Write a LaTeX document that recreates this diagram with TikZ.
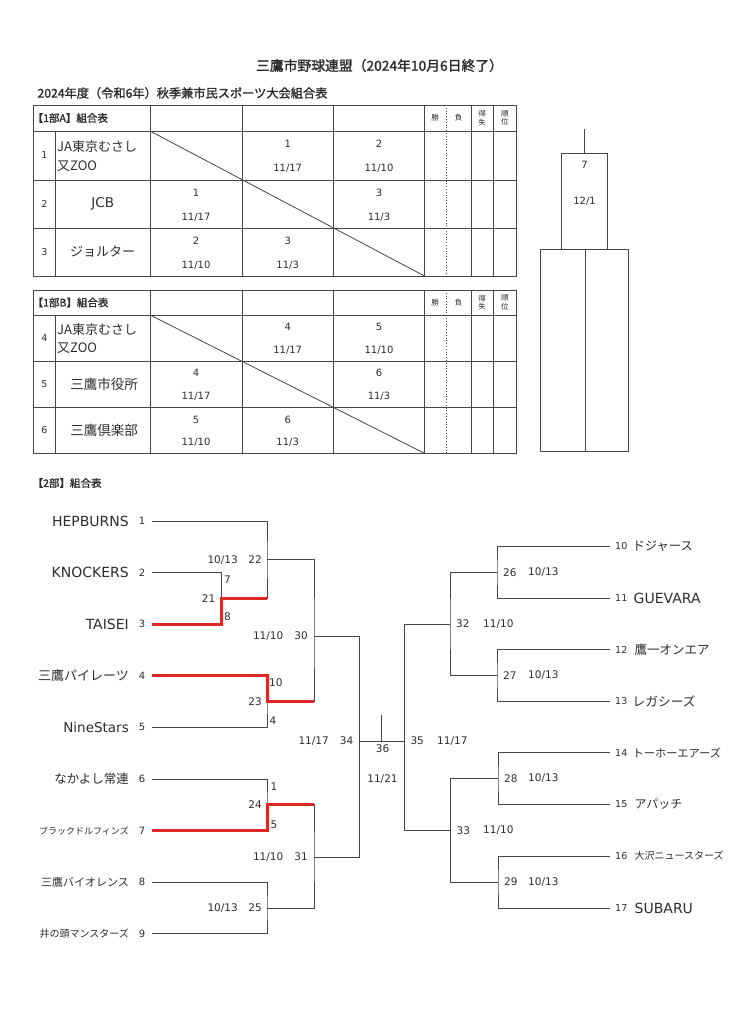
\documentclass[tikz,border=0pt]{standalone}
\usepackage{fontspec}
\setmainfont{DejaVu Sans}
\newfontfamily\jp{Noto Sans CJK JP}
\newfontfamily\jpb[FakeBold=1.6]{Noto Sans CJK JP}
\usetikzlibrary{positioning, calc}
\definecolor{ink}{RGB}{45,45,45}
\definecolor{linegray}{RGB}{70,70,70}
\definecolor{winred}{RGB}{222,38,38}
\newcommand\tsize[1]{\fontsize{#1}{#1}\selectfont}
\newcommand\score[6]{%
  \node[cell] (#1n) at (#2,#3) {#5};
  \node[cell] (#1d) at (#2,#4) {#6};}
\tikzset{
  tabline/.style={draw=linegray, line width=0.8pt},
  bline/.style={draw=linegray, line width=0.9pt},
  win/.style={draw=winred, line width=3pt},
  cell/.style={font=\tsize{10}, text=ink, inner sep=0pt},
  hdr/.style={font=\jpb\tsize{10.5}, text=ink, inner sep=0pt, anchor=west},
  colhd/.style={font=\jp\fontsize{7.5}{8.5}\selectfont, text=ink, inner sep=0pt, align=center},
  rowno/.style={font=\tsize{9.5}, text=ink, inner sep=0pt},
  tname/.style={text=ink, inner sep=0pt},
  seedL/.style={font=\tsize{10}, text=ink, inner sep=0pt},
  seedR/.style={font=\tsize{9.5}, text=ink, inner sep=0pt, anchor=west},
  teamL/.style={text=ink, inner sep=0pt, anchor=east},
  teamR/.style={text=ink, inner sep=0pt, anchor=west},
  lab/.style={font=\tsize{10.5}, text=ink, inner sep=0pt},
}

\begin{document}
\begin{tikzpicture}[x=1pt, y=-1pt]
\useasboundingbox (0,0) rectangle (734,1024);

% headings
\node[font=\jpb\tsize{13.8}, text=ink] (title) at (379.5,65.5) {三鷹市野球連盟（2024年10月6日終了）};
\node[font=\jpb\tsize{12.2}, text=ink, anchor=west] (subtitle) at (34,93) {2024年度（令和6年）秋季兼市民スポーツ大会組合表};

% league tables 1部A / 1部B
\foreach \t/\h/\m/\ra/\rb/\b/\g in {105/131/118/180/228/276/A, 290/315/302.5/361/407.5/453.3/B} {
  \draw[tabline] (33.3,\t) rectangle (516,\b);
  \draw[tabline] (33.3,\h) -- (516,\h) (33.3,\ra) -- (516,\ra) (33.3,\rb) -- (516,\rb);
  \draw[tabline] (55.5,\h) -- (55.5,\b);
  \foreach \x in {150,242,333.5,424.5,471,493.5}
    \draw[tabline] (\x,\t) -- (\x,\b);
  \draw[tabline, dotted] (446,\t) -- (446,\b);
  \draw[tabline] (150,\h) -- (424.5,\b);
  \node[hdr] (hd\g) at (32.5,\m) {【1部\g】組合表};
  \node[colhd] (win\g) at (435.2,\m) {勝};
  \node[colhd] (lose\g) at (458.5,\m) {負};
  \node[colhd] (diff\g) at (482.2,\m) {得\\失};
  \node[colhd] (rank\g) at (504.8,\m) {順\\位};
}

% 1部A rows
\node[rowno] (ra1) at (44.4,155.5) {1};
\node[rowno] (ra2) at (44.4,204) {2};
\node[rowno] (ra3) at (44.4,252) {3};
\node[tname, font=\jp\fontsize{13}{18.5}\selectfont, align=left, anchor=west] (na1) at (57,156) {JA東京むさし\\又ZOO};
\node[tname, font=\tsize{13.5}] (na2) at (102.7,204) {JCB};
\node[tname, font=\jp\tsize{13}] (na3) at (102.7,252) {ジョルター};
\score{a13}{287.7}{143.5}{168}{1}{11/17}
\score{a14}{379}{143.5}{168}{2}{11/10}
\score{a21}{196}{192.5}{217}{1}{11/17}
\score{a24}{379}{192.5}{217}{3}{11/3}
\score{a31}{196}{240.5}{265}{2}{11/10}
\score{a32}{287.7}{240.5}{265}{3}{11/3}

% 1部B rows
\node[rowno] (rb4) at (44.4,338) {4};
\node[rowno] (rb5) at (44.4,384.2) {5};
\node[rowno] (rb6) at (44.4,430.4) {6};
\node[tname, font=\jp\fontsize{13}{18.5}\selectfont, align=left, anchor=west] (nb4) at (57,338.5) {JA東京むさし\\又ZOO};
\node[tname, font=\jp\tsize{13.5}] (nb5) at (104,384.2) {三鷹市役所};
\node[tname, font=\jp\tsize{13.5}] (nb6) at (104,430.4) {三鷹倶楽部};
\score{b13}{287.7}{327}{350}{4}{11/17}
\score{b14}{379}{327}{350}{5}{11/10}
\score{b21}{196}{373}{396}{4}{11/17}
\score{b24}{379}{373}{396}{6}{11/3}
\score{b31}{196}{419.5}{442.5}{5}{11/10}
\score{b32}{287.7}{419.5}{442.5}{6}{11/3}

% final box
\draw[tabline] (584.3,129) -- (584.3,153);
\draw[tabline] (561.7,249) -- (561.7,153) -- (607.3,153) -- (607.3,249);
\draw[tabline] (540,249) rectangle (628.3,451.7);
\draw[tabline] (585.5,249) -- (585.5,451.7);
\node[cell] (fin) at (584.5,165) {7};
\node[cell] (findate) at (584.5,201.5) {12/1};

% 2部 bracket
\node[hdr] (hd2) at (32.5,483) {【2部】組合表};

\coordinate (t1) at (152,521);   \coordinate (t2) at (152,572.6);
\coordinate (t3) at (152,624.2); \coordinate (t4) at (152,675.8);
\coordinate (t5) at (152,727.4); \coordinate (t6) at (152,779);
\coordinate (t7) at (152,830.6); \coordinate (t8) at (152,882.2);
\coordinate (t9) at (152,933.8);
\coordinate (t10) at (610,546);   \coordinate (t11) at (610,598);
\coordinate (t12) at (610,649.5); \coordinate (t13) at (610,701);
\coordinate (t14) at (610,752.7); \coordinate (t15) at (610,804.3);
\coordinate (t16) at (610,856);   \coordinate (t17) at (610,908);

\coordinate (m21) at (221.5,598.4);
\coordinate (m22) at (267,559.7);
\coordinate (m23) at (267,701.6);
\coordinate (m24) at (267,804.8);
\coordinate (m25) at (267,908);
\coordinate (m30) at (314,636);
\coordinate (m31) at (314,857);
\coordinate (m34) at (359.5,741);
\coordinate (m26) at (497,572.5);
\coordinate (m27) at (497,675.3);
\coordinate (m28) at (498,778.5);
\coordinate (m29) at (498,882);
\coordinate (m32) at (450,624);
\coordinate (m33) at (450.5,830.5);
\coordinate (m35) at (404.3,741);
\coordinate (m36) at (381.7,715);

\draw[bline] (t2) -| (m21) |- (t3);
\draw[bline] (t1) -| (m22) |- (m21);
\draw[bline] (t4) -| (m23) |- (t5);
\draw[bline] (t6) -| (m24) |- (t7);
\draw[bline] (t8) -| (m25) |- (t9);
\draw[bline] (m22) -| (m30) |- (m23);
\draw[bline] (m24) -| (m31) |- (m25);
\draw[bline] (m30) -| (m34) |- (m31);
\draw[bline] (t10) -| (m26) |- (t11);
\draw[bline] (t12) -| (m27) |- (t13);
\draw[bline] (t14) -| (m28) |- (t15);
\draw[bline] (t16) -| (m29) |- (t17);
\draw[bline] (m26) -| (m32) |- (m27);
\draw[bline] (m28) -| (m33) |- (m29);
\draw[bline] (m32) -| (m35) |- (m33);
\draw[bline] (m34) -- (m35);
\draw[bline] (m36) -- (m36 |- m34);

% winners
\draw[win] (t3) -| (m21) -- (m21 -| m22);
\draw[win] (t4) -| (m23) -- (m23 -| m30);
\draw[win] (t7) -| (m24) -- (m24 -| m31);

% teams, left
\node[seedL] (s1) at (142,521) {1};
\node[seedL] (s2) at (142,572.6) {2};
\node[seedL] (s3) at (142,624.2) {3};
\node[seedL] (s4) at (142,675.8) {4};
\node[seedL] (s5) at (142,727.4) {5};
\node[seedL] (s6) at (142,779) {6};
\node[seedL] (s7) at (142,830.6) {7};
\node[seedL] (s8) at (142,882.2) {8};
\node[seedL] (s9) at (142,933.8) {9};
\node[teamL, font=\tsize{14}] (n1) at (129,521) {HEPBURNS};
\node[teamL, font=\tsize{14}] (n2) at (129,572.6) {KNOCKERS};
\node[teamL, font=\tsize{14}] (n3) at (129,624.2) {TAISEI};
\node[teamL, font=\jp\tsize{13}] (n4) at (129,675.8) {三鷹パイレーツ};
\node[teamL, font=\tsize{13.5}] (n5) at (129,727.4) {NineStars};
\node[teamL, font=\jp\tsize{12.5}] (n6) at (129,779) {なかよし常連};
\node[teamL, font=\jp\tsize{9}] (n7) at (129,830.6) {ブラックドルフィンズ};
\node[teamL, font=\jp\tsize{11}] (n8) at (129,882.2) {三鷹バイオレンス};
\node[teamL, font=\jp\tsize{10}] (n9) at (129,933.8) {井の頭マンスターズ};

% teams, right
\node[seedR] (s10) at (615,546) {10};
\node[seedR] (s11) at (615,598) {11};
\node[seedR] (s12) at (615,649.5) {12};
\node[seedR] (s13) at (615,701) {13};
\node[seedR] (s14) at (615,752.7) {14};
\node[seedR] (s15) at (615,804.3) {15};
\node[seedR] (s16) at (615,856) {16};
\node[seedR] (s17) at (615,908) {17};
\node[teamR, font=\jp\tsize{12.3}, right=5pt of s10] (n10) {ドジャース};
\node[teamR, font=\tsize{14}, right=6pt of s11] (n11) {GUEVARA};
\node[teamR, font=\jp\tsize{12.5}, right=7pt of s12] (n12) {鷹一オンエア};
\node[teamR, font=\jp\tsize{12.7}, right=5pt of s13] (n13) {レガシーズ};
\node[teamR, font=\jp\tsize{11.2}, right=5pt of s14] (n14) {トーホーエアーズ};
\node[teamR, font=\jp\tsize{12}, right=7pt of s15] (n15) {アパッチ};
\node[teamR, font=\jp\tsize{10}, right=7pt of s16] (n16) {大沢ニュースターズ};
\node[teamR, font=\tsize{14}, right=7pt of s17] (n17) {SUBARU};

% match labels, left
\node[lab, left=6pt of m21] (l21) {21};
\node[lab, anchor=west] (l21a) at (224,580) {7};
\node[lab, anchor=west] (l21b) at (224,617) {8};
\node[lab, left=5pt of m22] (l22) {22};
\node[lab, anchor=east] (d22) at (238,559.7) {10/13};
\node[lab, left=5pt of m23] (l23) {23};
\node[lab, anchor=west] (l23a) at (269,683) {10};
\node[lab, anchor=west] (l23b) at (269.5,721) {4};
\node[lab, left=5pt of m24] (l24) {24};
\node[lab, anchor=west] (l24a) at (270.5,787) {1};
\node[lab, anchor=west] (l24b) at (270.5,825) {5};
\node[lab, left=5pt of m25] (l25) {25};
\node[lab, anchor=east] (d25) at (238,908) {10/13};
\node[lab, left=6pt of m30] (l30) {30};
\node[lab, anchor=east] (d30) at (283.5,636) {11/10};
\node[lab, left=6pt of m31] (l31) {31};
\node[lab, anchor=east] (d31) at (283.5,857) {11/10};
\node[lab, left=6pt of m34] (l34) {34};
\node[lab, anchor=east] (d34) at (329,741) {11/17};
\node[lab] (l36) at (382.5,748.5) {36};
\node[lab] (d36) at (382.5,779) {11/21};

% match labels, right
\node[lab, right=6pt of m35] (l35) {35};
\node[lab, anchor=west] (d35) at (437,741) {11/17};
\node[lab, right=6pt of m32] (l32) {32};
\node[lab, anchor=west] (d32) at (483,624) {11/10};
\node[lab, right=6pt of m33] (l33) {33};
\node[lab, anchor=west] (d33) at (483,830.5) {11/10};
\node[lab, right=6pt of m26] (l26) {26};
\node[lab, anchor=west] (d26) at (528,572.5) {10/13};
\node[lab, right=6pt of m27] (l27) {27};
\node[lab, anchor=west] (d27) at (528,675.3) {10/13};
\node[lab, right=6pt of m28] (l28) {28};
\node[lab, anchor=west] (d28) at (528,778.5) {10/13};
\node[lab, right=6pt of m29] (l29) {29};
\node[lab, anchor=west] (d29) at (528,882) {10/13};
\end{tikzpicture}
\end{document}
